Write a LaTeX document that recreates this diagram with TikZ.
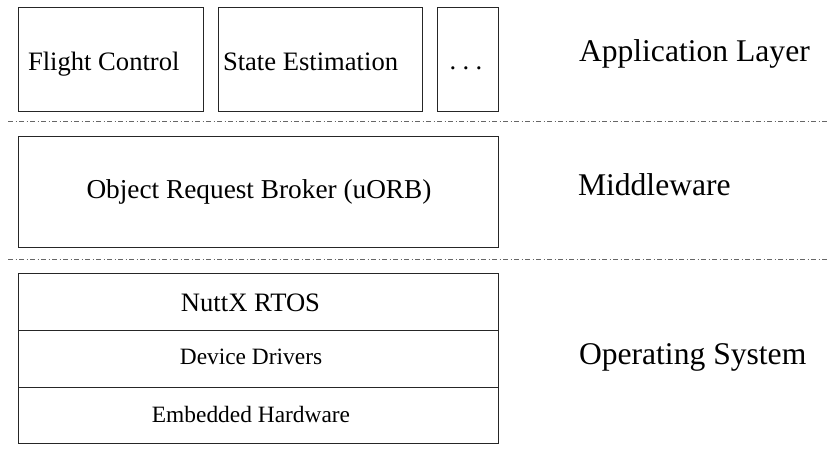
\documentclass[tikz,border=0pt]{standalone}
\usepackage{fontspec}
\setmainfont{Liberation Serif}
\newcommand\boxfnt{\fontsize{26.6}{30}\selectfont}
\newcommand\smallfnt{\fontsize{23.4}{27}\selectfont}
\newcommand\midfnt{\fontsize{27.3}{30}\selectfont}
\newcommand\layerfnt{\fontsize{31.6}{36}\selectfont}
\begin{document}
\begin{tikzpicture}[x=1pt,y=-1pt,
  box/.style={draw=black!85, line width=0.9pt, rectangle, inner sep=0pt, outer sep=0pt},
  txt/.style={inner sep=0pt, outer sep=0pt, anchor=base west, text=black},
  ctxt/.style={inner sep=0pt, outer sep=0pt, anchor=base, text=black},
  sepline/.style={draw=black!60, line width=0.9pt, dash pattern=on 5pt off 2.5pt on 1pt off 2.5pt}]
\useasboundingbox (0,0) rectangle (827,453);
% application layer
\node[box, minimum width=185pt, minimum height=104pt] (fcbox) at (110.5,59) {};
\node[box, minimum width=204pt, minimum height=104pt] (sebox) at (320,59) {};
\node[box, minimum width=61pt, minimum height=104pt] (dotbox) at (467.5,59) {};
\node[txt, font=\boxfnt] (fc) at (28,70) {Flight Control};
\node[txt, font=\boxfnt] (se) at (223,70) {State Estimation};
\node[ctxt, font=\boxfnt] (dots) at (466,69) {.\kern0.24em.\kern0.24em.};
% separator 1
\coordinate (s1l) at (8,121);
\coordinate (s1r) at (827,121);
\draw[sepline] (s1l) -- (s1r);
% middleware
\node[box, minimum width=480pt, minimum height=111pt] (orbbox) at (258,191.5) {};
\node[ctxt, font=\midfnt] (orb) at (259,198) {Object Request Broker (uORB)};
% separator 2
\coordinate (s2l) at (8,259);
\coordinate (s2r) at (827,259);
\draw[sepline] (s2l) -- (s2r);
% operating system
\node[box, minimum width=480pt, minimum height=57pt] (rtosbox) at (258,301.5) {};
\node[box, minimum width=480pt, minimum height=57pt] (ddbox) at (258,358.5) {};
\node[box, minimum width=480pt, minimum height=56pt] (hwbox) at (258,415) {};
\node[ctxt, font=\boxfnt] (rtos) at (250.5,311) {NuttX RTOS};
\node[ctxt, font=\smallfnt] (dd) at (251,364) {Device Drivers};
\node[ctxt, font=\smallfnt] (hw) at (251,422) {Embedded Hardware};
% layer labels
\node[txt, font=\layerfnt] (lapp) at (579,61) {Application Layer};
\node[txt, font=\layerfnt] (lmid) at (578,195) {Middleware};
\node[txt, font=\layerfnt] (los) at (579,364) {Operating System};
\end{tikzpicture}
\end{document}
